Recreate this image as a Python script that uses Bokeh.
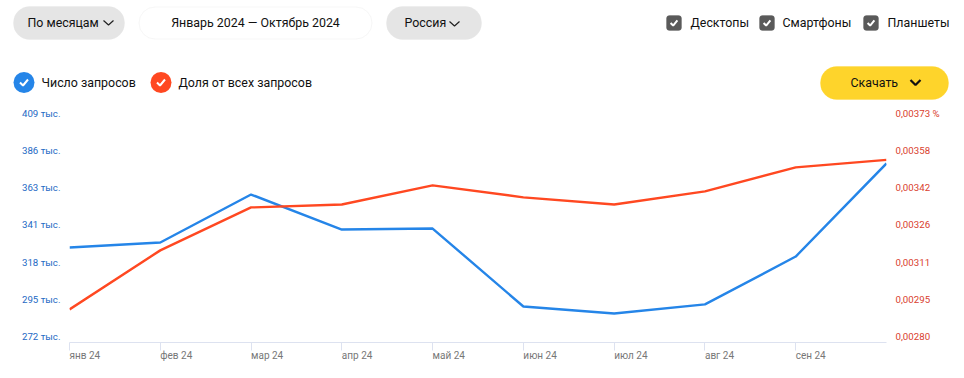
from bokeh.plotting import figure
from bokeh.models import BoxAnnotation, FixedTicker, LinearAxis, Range1d
from bokeh.embed import file_html
from bokeh.resources import INLINE
from bokeh.core.properties import value

months = ["янв 24", "фев 24", "мар 24", "апр 24", "май 24", "июн 24", "июл 24", "авг 24", "сен 24", "окт 24"]
month_idx = [0, 1, 2, 3, 4, 5, 6, 7, 8, 9]
queries = [326.7, 329.7, 359.2, 337.7, 338.3, 290.4, 286.1, 291.7, 321.1, 378.3]
share = [0.002913, 0.003159, 0.003338, 0.003350, 0.003430, 0.003380, 0.003350, 0.003405, 0.003505, 0.003536]
left_ticks = [272, 294.83, 317.67, 340.5, 363.33, 386.17, 409]
left_labels = ["272 тыс.", "295 тыс.", "318 тыс.", "341 тыс.", "363 тыс.", "386 тыс.", "409 тыс."]
right_ticks = [0.00280, 0.002955, 0.00311, 0.003265, 0.00342, 0.003575, 0.00373]
right_labels = ["0,00280", "0,00295", "0,00311", "0,00326", "0,00342", "0,00358", "0,00373 %"]

FONT = "Roboto"
BLUE = "#2585e8"
RED = "#ff4821"
GREY = "#e5e5e5"

# ---------- header: its ranges equal page pixels ----------
h = figure(width=964, height=100, output_backend="svg", toolbar_location=None,
           x_range=Range1d(0, 964), y_range=Range1d(100, 0),
           min_border=0, outline_line_color=None)
h.axis.visible = False
h.grid.visible = False


def box(l, r, t, b, fill, line=None, radius=16):
    h.add_layout(BoxAnnotation(left=l, right=r, top=t, bottom=b, border_radius=radius,
                               fill_color=fill, fill_alpha=1, line_color=line or fill,
                               line_width=1, level="underlay"))


def txt(x, y, s, align="left", size="12.4px"):
    h.text([x], [y], text=[s], text_font=value(FONT), text_font_size=size, text_color="#111111",
           text_align=align, text_baseline="middle")


def chevron(x0, x1, y0, y1, w=1.2, color="#222222"):
    h.line([x0, (x0 + x1) / 2, x1], [y0, y1, y0], line_color=color, line_width=w)


def check(cx, cy, s=1.0, w=2.0):
    h.line([cx - 4 * s, cx - 1 * s, cx + 4 * s], [cy, cy + 3 * s, cy - 3 * s],
           line_color="white", line_width=w)


box(13, 124, 6, 39, GREY)
txt(27, 22, "По месяцам")
chevron(103, 113, 20, 24.5)
box(138.5, 371.5, 6.5, 38.5, "white", "#e2e2e2")
txt(255, 22, "Январь 2024 — Октябрь 2024", "center")
box(386, 481, 6, 39, GREY)
txt(404, 22, "Россия")
chevron(449, 459, 21, 25.5)

for bx, tx, s in [(666, 690, "Десктопы"), (759, 782, "Смартфоны"), (863, 887, "Планшеты")]:
    box(bx, bx + 15, 15, 30, "#5a5a5a", radius=3)
    check(bx + 7.5, 22.5, 0.85)
    txt(tx, 22, s)

h.circle([23.5], [82], radius=10.5, fill_color=BLUE, line_color=None)
check(23.5, 82)
txt(41, 82, "Число запросов")
h.circle([160.5], [82], radius=10.5, fill_color=RED, line_color=None)
check(160.5, 82)
txt(178, 82, "Доля от всех запросов")

box(820, 948, 66, 99, "#fed42b")
txt(850, 82, "Скачать")
chevron(910, 920, 79.5, 84.5, 2.2, "#111111")

# ---------- chart ----------
p = figure(width=964, height=278, output_backend="svg", toolbar_location=None,
           x_range=Range1d(0, 9), y_range=Range1d(268.3, 414.5),
           min_border_left=69, min_border_right=78, min_border_top=4, min_border_bottom=36,
           outline_line_color=None)
p.grid.visible = False
p.extra_y_ranges = {"share": Range1d(0.002775, 0.003767)}

p.xaxis.ticker = FixedTicker(ticks=month_idx[:-1])
p.xaxis.major_label_overrides = dict(zip(month_idx[:-1], months[:-1]))
p.xaxis.major_label_orientation = -0.0001
p.xaxis.major_label_standoff = 5
p.xaxis.major_label_text_font = FONT
p.xaxis.major_label_text_font_size = "10px"
p.xaxis.major_label_text_color = "#777777"
p.xaxis.axis_line_color = "#dde2f0"
p.xaxis.major_tick_line_color = "#dde2f0"
p.xaxis.major_tick_in = 0
p.xaxis.major_tick_out = 8
p.xaxis.minor_tick_line_color = None

p.yaxis.ticker = FixedTicker(ticks=left_ticks)
p.yaxis.major_label_overrides = dict(zip(left_ticks, left_labels))
ra = LinearAxis(y_range_name="share", ticker=FixedTicker(ticks=right_ticks),
                major_label_overrides=dict(zip(right_ticks, right_labels)))
p.add_layout(ra, "right")
for ax, col in [(p.yaxis[0], "#2469c4"), (ra, "#d9402e")]:
    ax.axis_line_color = None
    ax.major_tick_line_color = None
    ax.major_tick_in = 0
    ax.major_tick_out = 0
    ax.minor_tick_line_color = None
    ax.major_label_standoff = 9
    ax.major_label_text_color = col
    ax.major_label_text_font = FONT
    ax.major_label_text_font_size = "9.7px"

p.line(month_idx, queries, line_color=BLUE, line_width=2.4)
p.line(month_idx, share, y_range_name="share", line_color=RED, line_width=2.4)

open("out.html", "w").write(file_html([h, p], INLINE))
